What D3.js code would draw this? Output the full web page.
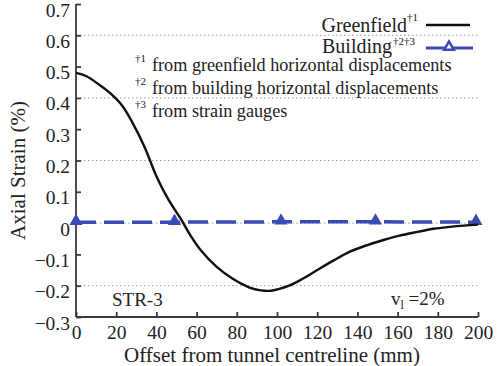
<!DOCTYPE html>
<html>
<head>
<meta charset="utf-8">
<script src="https://cdn.jsdelivr.net/npm/d3@7"></script>
<style>
  html, body { margin: 0; padding: 0; background: #fff; }
  svg { display: block; }
  svg text { font-family: "Liberation Serif", "Times New Roman", "DejaVu Serif", serif; fill: #222; }
</style>
</head>
<body>
<svg id="chart" width="499" height="366"></svg>
<script>
// Greenfield axial strain profile (%), offset in mm
const greenOffset = [0, 5, 12, 17, 23, 28, 34, 40, 46, 52, 57, 62, 70, 78, 86, 92, 97, 106, 113, 120, 128, 136, 145, 153, 161, 170, 178, 186, 193, 200];
const greenStrain = [0.48, 0.47, 0.44, 0.415, 0.375, 0.322, 0.245, 0.15, 0.075, 0.015, -0.04, -0.086, -0.14, -0.178, -0.205, -0.215, -0.216, -0.2, -0.177, -0.15, -0.12, -0.092, -0.07, -0.054, -0.04, -0.028, -0.018, -0.012, -0.008, -0.005];

// Building axial strain (%) at measurement points
const buildingOffset = [0, 49, 102, 149, 199];
const buildingStrain = [0.003, 0.003, 0.004, 0.004, 0.003];

const xTicks = [0, 20, 40, 60, 80, 100, 120, 140, 160, 180, 200];
const yTicks = [-0.3, -0.2, -0.1, 0, 0.1, 0.2, 0.3, 0.4, 0.5, 0.6, 0.7];
const gridValues = [-0.2, 0, 0.2, 0.4, 0.6];

const footnotes = [
  { mark: "\u20201", text: "from greenfield horizontal displacements" },
  { mark: "\u20202", text: "from building horizontal displacements" },
  { mark: "\u20203", text: "from strain gauges" }
];

const svg = d3.select("#chart");
const x = d3.scaleLinear().domain([0, 200]).range([76, 478]);
const y = d3.scaleLinear().domain([-0.3, 0.7]).range([317, 4]);

const blue = "#3a4cb4";
const axisColor = "#3a3a3a";

// dotted grid lines
svg.append("g").selectAll("line").data(gridValues).join("line")
  .attr("x1", x(0)).attr("x2", x(200))
  .attr("y1", d => y(d)).attr("y2", d => y(d))
  .attr("stroke", "#9a9a9a").attr("stroke-width", 1)
  .attr("stroke-dasharray", "1.5,2.5");

// axes with inward ticks
const yAxis = d3.axisLeft(y).tickValues(yTicks).tickSize(-5).tickPadding(6)
  .tickFormat(d => d === 0 ? "0" : d3.format(".1f")(d));
const gy = svg.append("g").attr("transform", `translate(${x(0)},0)`).call(yAxis);
gy.attr("font-family", null);
gy.select(".domain").attr("d", `M0,${y(0.7)}V${y(-0.3)}`);
gy.selectAll("path, line").attr("stroke", axisColor).attr("stroke-width", 1.8);
gy.selectAll("text").attr("font-size", 19.5).attr("dy", "0.62em").attr("fill", "#222");

const xAxis = d3.axisBottom(x).tickValues(xTicks).tickSize(-5).tickPadding(8);
const gx = svg.append("g").attr("transform", `translate(0,${y(-0.3)})`).call(xAxis);
gx.attr("font-family", null);
gx.select(".domain").attr("d", `M${x(0)},0H${x(200)}`);
gx.selectAll("path, line").attr("stroke", axisColor).attr("stroke-width", 1.8);
gx.selectAll("text").attr("font-size", 19.5).attr("fill", "#222");

// axis titles
svg.append("text")
  .attr("transform", `translate(25,${(y(0.7) + y(-0.3)) / 2 + 10}) rotate(-90)`)
  .attr("text-anchor", "middle").attr("font-size", 21)
  .text("Axial Strain (%)");
svg.append("text")
  .attr("x", 272).attr("y", 362)
  .attr("text-anchor", "middle").attr("font-size", 21)
  .text("Offset from tunnel centreline (mm)");

// building series: dashed line with triangle markers
const buildingData = buildingOffset.map((d, i) => [d, buildingStrain[i]]);
svg.append("path")
  .datum(buildingData)
  .attr("fill", "none").attr("stroke", blue).attr("stroke-width", 3.5)
  .attr("stroke-dasharray", "20,8")
  .attr("d", d3.line().x(d => x(d[0])).y(d => y(d[1])));

const tri = d3.symbol().type(d3.symbolTriangle).size(40);
svg.append("g").selectAll("path").data(buildingData).join("path")
  .attr("transform", d => `translate(${x(d[0])},${y(d[1]) - 1})`)
  .attr("d", tri)
  .attr("fill", blue).attr("stroke", blue).attr("stroke-width", 2);

// greenfield curve
const greenData = greenOffset.map((d, i) => [d, greenStrain[i]]);
svg.append("path")
  .datum(greenData)
  .attr("fill", "none").attr("stroke", "#111").attr("stroke-width", 2.4)
  .attr("d", d3.line().x(d => x(d[0])).y(d => y(d[1])).curve(d3.curveCatmullRom));

// legend
const leg = svg.append("g");
leg.append("text").attr("x", 407).attr("y", 32).attr("text-anchor", "end").attr("font-size", 20).text("Greenfield");
leg.append("text").attr("x", 407).attr("y", 21).attr("font-size", 11).text("\u20201");
leg.append("line").attr("x1", 426).attr("x2", 470).attr("y1", 25).attr("y2", 25)
  .attr("stroke", "#111").attr("stroke-width", 2.6);

leg.append("text").attr("x", 392).attr("y", 53).attr("text-anchor", "end").attr("font-size", 20).text("Building");
leg.append("text").attr("x", 393).attr("y", 45).attr("font-size", 11).text("\u20202\u20203");
leg.append("line").attr("x1", 426).attr("x2", 473).attr("y1", 48).attr("y2", 48)
  .attr("stroke", blue).attr("stroke-width", 3);
leg.append("path").attr("transform", "translate(449,47)").attr("d", tri)
  .attr("fill", "#fff").attr("stroke", blue).attr("stroke-width", 2.5);

// footnotes
const fn = svg.append("g");
footnotes.forEach((f, i) => {
  const base = 71 + i * 23;
  fn.append("text").attr("x", 135).attr("y", base - 9).attr("font-size", 11).text(f.mark);
  fn.append("text").attr("x", 152).attr("y", base).attr("font-size", 18.2).text(f.text);
});

// annotations
svg.append("text").attr("x", 112).attr("y", 306).attr("font-size", 19).text("STR-3");
const vl = svg.append("text").attr("x", 391).attr("y", 305).attr("font-size", 19);
vl.append("tspan").text("v");
vl.append("tspan").attr("font-size", 12).attr("dy", 4).text("l");
vl.append("tspan").attr("dy", -4).text(" =2%");
</script>
</body>
</html>
